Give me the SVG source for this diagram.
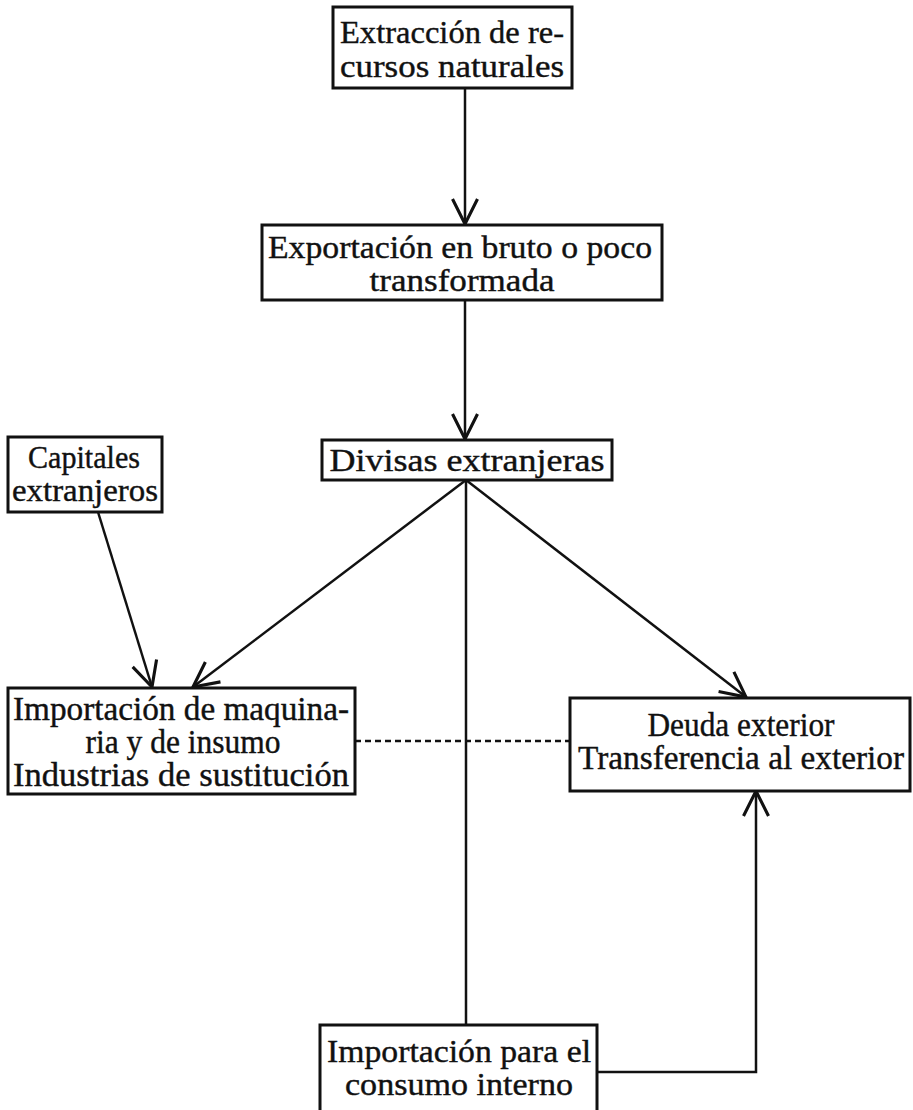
<svg xmlns="http://www.w3.org/2000/svg" width="913" height="1110" viewBox="0 0 913 1110">
<style>
.box{fill:#fff;stroke:#111;stroke-width:3}
.t{font-family:"Liberation Serif",serif;font-size:32px;fill:#111;stroke:#111;stroke-width:0.4;text-anchor:middle}
.c{font-family:"Liberation Serif",serif;font-size:33px;fill:#111;stroke:#111;stroke-width:0.4;text-anchor:middle}
.ln{fill:none;stroke:#111;stroke-width:2.5}
.dash{fill:none;stroke:#111;stroke-width:2.5;stroke-dasharray:6 4}
</style>
<defs>
<marker id="ah" markerUnits="userSpaceOnUse" markerWidth="30" markerHeight="30" viewBox="-2 -12 24 24" refX="20" refY="0" orient="auto">
<path d="M0,-10 L20,0 L0,10" fill="none" stroke="#111" stroke-width="2.5"/>
</marker>
</defs>
<rect width="913" height="1110" fill="#fff"/>
<g id="connectors">
<line class="ln" x1="465" y1="88" x2="465" y2="224" marker-end="url(#ah)"/>
<line class="ln" x1="465" y1="300" x2="465" y2="439" marker-end="url(#ah)"/>
<line class="ln" x1="466" y1="480" x2="466" y2="1025"/>
<line class="ln" x1="466" y1="480" x2="193" y2="687" marker-end="url(#ah)"/>
<line class="ln" x1="466" y1="480" x2="746" y2="697" marker-end="url(#ah)"/>
<line class="ln" x1="98" y1="512" x2="152" y2="687" marker-end="url(#ah)"/>
<polyline class="ln" points="597,1072 756,1072 756,791" marker-end="url(#ah)"/>
<line class="dash" x1="355" y1="741" x2="570" y2="741"/>
</g>
<g id="n1">
<rect class="box" x="333" y="7" width="239" height="81"/>
<text class="t" x="452" y="43" textLength="224" lengthAdjust="spacingAndGlyphs">Extracción de re-</text>
<text class="t" x="452" y="77" textLength="224" lengthAdjust="spacingAndGlyphs">cursos naturales</text>
</g>
<g id="n2">
<rect class="box" x="262" y="225" width="400" height="75"/>
<text class="t" x="460" y="258" textLength="384" lengthAdjust="spacingAndGlyphs">Exportación en bruto o poco</text>
<text class="t" x="462" y="291" textLength="185" lengthAdjust="spacingAndGlyphs">transformada</text>
</g>
<g id="n3">
<rect class="box" x="322" y="440" width="290" height="40"/>
<text class="t" x="467" y="471" textLength="275" lengthAdjust="spacingAndGlyphs">Divisas extranjeras</text>
</g>
<g id="n4">
<rect class="box" x="8" y="437" width="154" height="75"/>
<text class="t" x="84" y="468" textLength="112" lengthAdjust="spacingAndGlyphs">Capitales</text>
<text class="t" x="85" y="501" textLength="146" lengthAdjust="spacingAndGlyphs">extranjeros</text>
</g>
<g id="n5">
<rect class="box" x="8" y="688" width="347" height="106"/>
<text class="c" x="181" y="720" textLength="336" lengthAdjust="spacingAndGlyphs">Importación de maquina-</text>
<text class="c" x="183" y="753" textLength="195" lengthAdjust="spacingAndGlyphs">ria y de insumo</text>
<text class="c" x="181" y="786" textLength="336" lengthAdjust="spacingAndGlyphs">Industrias de sustitución</text>
</g>
<g id="n6">
<rect class="box" x="570" y="698" width="340" height="93"/>
<text class="c" x="741" y="736" textLength="187" lengthAdjust="spacingAndGlyphs">Deuda exterior</text>
<text class="c" x="741" y="769" textLength="326" lengthAdjust="spacingAndGlyphs">Transferencia al exterior</text>
</g>
<g id="n7">
<rect class="box" x="320" y="1025" width="277" height="95"/>
<text class="t" x="459" y="1062" textLength="264" lengthAdjust="spacingAndGlyphs">Importación para el</text>
<text class="t" x="459" y="1095" textLength="228" lengthAdjust="spacingAndGlyphs">consumo interno</text>
</g>
</svg>
